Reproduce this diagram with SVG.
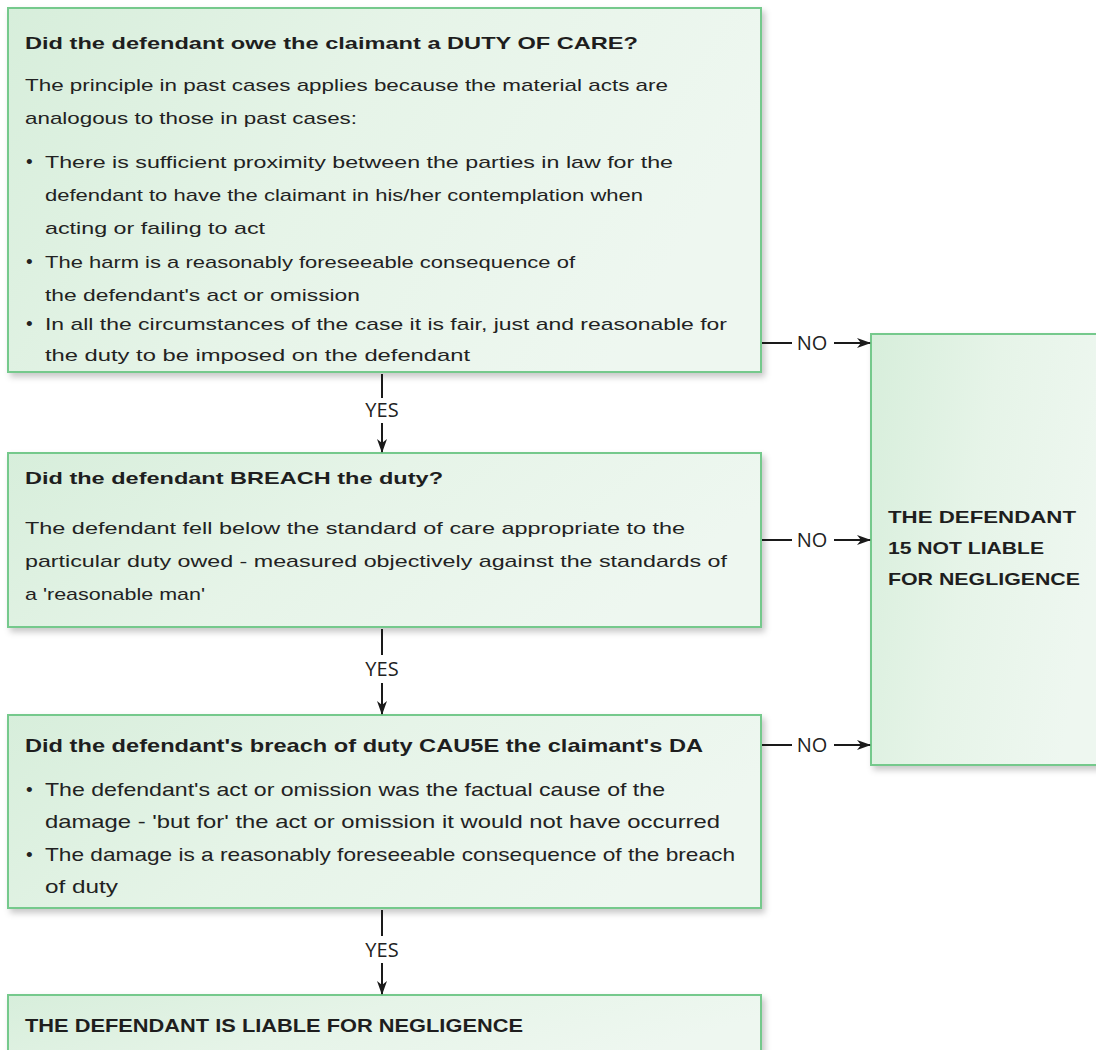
<svg xmlns="http://www.w3.org/2000/svg" width="1096" height="1050" viewBox="0 0 1096 1050">
  <defs>
    <linearGradient id="boxFill" x1="0" y1="0" x2="1" y2="0.3">
      <stop offset="0" stop-color="#d7eedb"/>
      <stop offset="0.5" stop-color="#e6f4e8"/>
      <stop offset="1" stop-color="#eef7f0"/>
    </linearGradient>
    <filter id="shadow" x="-5%" y="-5%" width="112%" height="115%">
      <feDropShadow dx="3" dy="4" stdDeviation="3" flood-color="#000" flood-opacity="0.22"/>
    </filter>
    <marker id="arrow" viewBox="0 0 14 12" refX="13" refY="6" markerWidth="14" markerHeight="12" markerUnits="userSpaceOnUse" orient="auto">
      <path d="M0,1 L14,6 L0,11 L4,6 Z" fill="#1a1a1a"/>
    </marker>
  </defs>
  <style>
    .box { fill: url(#boxFill); stroke: #74c98c; stroke-width: 2; filter: url(#shadow); }
    .title { font-family: "Liberation Sans", Arial, sans-serif; font-weight: bold; font-size: 17px; fill: #1e1e1e; }
    .cond { font-family: "Liberation Sans Narrow", "Liberation Sans", Arial, sans-serif; font-weight: bold; font-size: 19px; fill: #1e1e1e; }
    .body { font-family: "Liberation Sans", Arial, sans-serif; font-size: 17px; fill: #222; }
    .bodyc { font-family: "Liberation Sans Narrow", "Liberation Sans", Arial, sans-serif; font-size: 19px; fill: #222; }
    .bullet { font-family: "Liberation Sans", Arial, sans-serif; font-size: 19px; fill: #222; }
    .lbl { font-family: "Open Sans", "DejaVu Sans", sans-serif; font-size: 20px; fill: #222; }
    .line { stroke: #1a1a1a; stroke-width: 2; fill: none; }
  </style>

  <rect width="1096" height="1050" fill="#ffffff"/>

  <!-- Duty of care -->
  <g id="duty">
    <rect class="box" x="8" y="8" width="753" height="364"/>
    <text class="title" x="25" y="49" textLength="613" lengthAdjust="spacingAndGlyphs">Did the defendant owe the claimant a DUTY OF CARE?</text>
    <text class="body" x="25" y="91" textLength="643" lengthAdjust="spacingAndGlyphs">The principle in past cases applies because the material acts are</text>
    <text class="body" x="25" y="124" textLength="332" lengthAdjust="spacingAndGlyphs">analogous to those in past cases:</text>
    <text class="bullet" x="26" y="168">•</text>
    <text class="body" x="45" y="168" textLength="628" lengthAdjust="spacingAndGlyphs">There is sufficient proximity between the parties in law for the</text>
    <text class="body" x="45" y="201" textLength="598" lengthAdjust="spacingAndGlyphs">defendant to have the claimant in his/her contemplation when</text>
    <text class="body" x="45" y="234" textLength="220" lengthAdjust="spacingAndGlyphs">acting or failing to act</text>
    <text class="bullet" x="26" y="268">•</text>
    <text class="body" x="45" y="268" textLength="530" lengthAdjust="spacingAndGlyphs">The harm is a reasonably foreseeable consequence of</text>
    <text class="body" x="45" y="301" textLength="315" lengthAdjust="spacingAndGlyphs">the defendant's act or omission</text>
    <text class="bullet" x="26" y="330">•</text>
    <text class="body" x="45" y="330" textLength="682" lengthAdjust="spacingAndGlyphs">In all the circumstances of the case it is fair, just and reasonable for</text>
    <text class="body" x="45" y="361" textLength="425" lengthAdjust="spacingAndGlyphs">the duty to be imposed on the defendant</text>
  </g>

  <!-- Breach -->
  <g id="breach">
    <rect class="box" x="8" y="453" width="753" height="174"/>
    <text class="title" x="25" y="484" textLength="418" lengthAdjust="spacingAndGlyphs">Did the defendant BREACH the duty?</text>
    <text class="body" x="25" y="534" textLength="660" lengthAdjust="spacingAndGlyphs">The defendant fell below the standard of care appropriate to the</text>
    <text class="body" x="25" y="567" textLength="702" lengthAdjust="spacingAndGlyphs">particular duty owed -  measured objectively against the standards of</text>
    <text class="body" x="25" y="600" textLength="180" lengthAdjust="spacingAndGlyphs">a 'reasonable man'</text>
  </g>

  <!-- Causation -->
  <g id="cause">
    <rect class="box" x="8" y="715" width="753" height="193"/>
    <text class="cond" x="25" y="752" textLength="678" lengthAdjust="spacingAndGlyphs">Did the defendant's breach of duty CAU5E the claimant's DA</text>
    <text class="bullet" x="26" y="796">•</text>
    <text class="bodyc" x="45" y="796" textLength="620" lengthAdjust="spacingAndGlyphs">The defendant's act or omission was the factual cause of the</text>
    <text class="bodyc" x="45" y="828" textLength="675" lengthAdjust="spacingAndGlyphs">damage -  'but for' the act or omission it would not have occurred</text>
    <text class="bullet" x="26" y="861">•</text>
    <text class="bodyc" x="45" y="861" textLength="690" lengthAdjust="spacingAndGlyphs">The damage is a reasonably foreseeable consequence of the breach</text>
    <text class="bodyc" x="45" y="893" textLength="73" lengthAdjust="spacingAndGlyphs">of duty</text>
  </g>

  <!-- Liable -->
  <g id="liable">
    <rect class="box" x="8" y="995" width="753" height="70"/>
    <text class="cond" x="25" y="1032" textLength="498" lengthAdjust="spacingAndGlyphs">THE DEFENDANT IS LIABLE FOR NEGLIGENCE</text>
  </g>

  <!-- Not liable -->
  <g id="not-liable">
    <rect class="box" x="871" y="334" width="240" height="431"/>
    <text class="title" x="888" y="523" textLength="188" lengthAdjust="spacingAndGlyphs">THE DEFENDANT</text>
    <text class="title" x="888" y="554" textLength="156" lengthAdjust="spacingAndGlyphs">15 NOT LIABLE</text>
    <text class="title" x="888" y="585" textLength="192" lengthAdjust="spacingAndGlyphs">FOR NEGLIGENCE</text>
  </g>

  <!-- Connectors -->
  <g id="connectors">
    <line class="line" x1="382" y1="374" x2="382" y2="398"/>
    <text class="lbl" x="382" y="417" text-anchor="middle">YES</text>
    <line class="line" x1="382" y1="423" x2="382" y2="452" marker-end="url(#arrow)"/>

    <line class="line" x1="382" y1="629" x2="382" y2="655"/>
    <text class="lbl" x="382" y="676" text-anchor="middle">YES</text>
    <line class="line" x1="382" y1="683" x2="382" y2="714" marker-end="url(#arrow)"/>

    <line class="line" x1="382" y1="910" x2="382" y2="936"/>
    <text class="lbl" x="382" y="957" text-anchor="middle">YES</text>
    <line class="line" x1="382" y1="963" x2="382" y2="994" marker-end="url(#arrow)"/>

    <line class="line" x1="762" y1="343" x2="792" y2="343"/>
    <text class="lbl" x="812" y="350" text-anchor="middle">NO</text>
    <line class="line" x1="834" y1="343" x2="870" y2="343" marker-end="url(#arrow)"/>

    <line class="line" x1="762" y1="540" x2="792" y2="540"/>
    <text class="lbl" x="812" y="547" text-anchor="middle">NO</text>
    <line class="line" x1="834" y1="540" x2="870" y2="540" marker-end="url(#arrow)"/>

    <line class="line" x1="762" y1="745" x2="792" y2="745"/>
    <text class="lbl" x="812" y="752" text-anchor="middle">NO</text>
    <line class="line" x1="834" y1="745" x2="870" y2="745" marker-end="url(#arrow)"/>
  </g>
</svg>
